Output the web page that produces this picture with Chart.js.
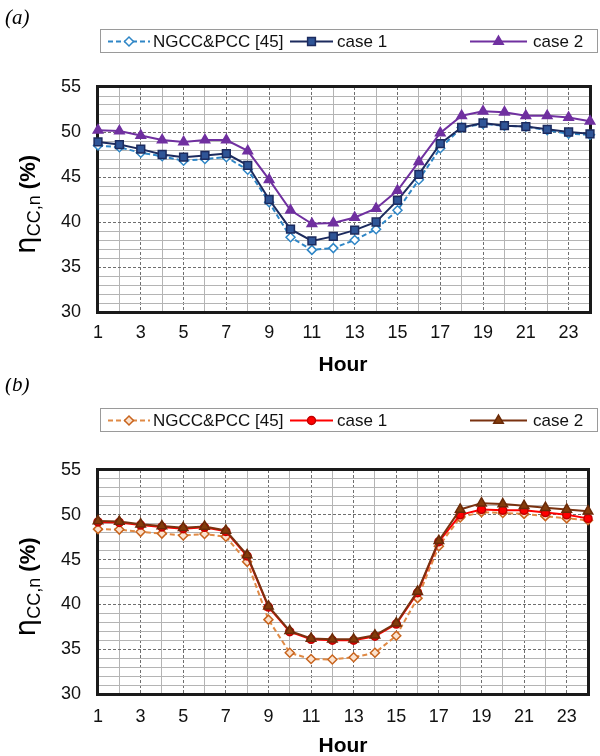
<!DOCTYPE html>
<html><head><meta charset="utf-8">
<script src="https://cdn.jsdelivr.net/npm/chart.js@4/dist/chart.umd.min.js"></script>
<style>
html,body{margin:0;padding:0;background:#fff;}
#wrap{position:relative;width:600px;height:756px;overflow:hidden;background:#fff;}
.pane{position:absolute;left:0;width:600px;height:378px;}
</style></head><body>
<div id="wrap">
<div class="pane" style="top:0"><canvas id="ca" width="600" height="378"></canvas></div>
<div class="pane" style="top:378px"><canvas id="cb" width="600" height="378"></canvas></div>
</div>
<script>
// ---- data ----
const hours = ["1","2","3","4","5","6","7","8","9","10","11","12","13","14","15","16","17","18","19","20","21","22","23","24"];
const xTickLabels = ["1","3","5","7","9","11","13","15","17","19","21","23"];
const yTickLabels = [30, 35, 40, 45, 50, 55];
const seriesNames = ["NGCC&PCC [45]", "case 1", "case 2"];

const aNgcc  = [48.5, 48.3, 47.7, 47.3, 46.8, 47.0, 47.2, 45.8, 42.2, 38.3, 36.9, 37.1, 38.0, 39.2, 41.3, 44.7, 48.2, 50.5, 50.9, 50.7, 50.6, 50.2, 49.8, 49.7];
const aCase1 = [48.9, 48.6, 48.1, 47.5, 47.2, 47.4, 47.6, 46.3, 42.5, 39.2, 37.9, 38.4, 39.1, 40.0, 42.4, 45.3, 48.7, 50.5, 51.0, 50.7, 50.6, 50.3, 50.0, 49.8];
const aCase2 = [50.2, 50.1, 49.6, 49.1, 48.9, 49.1, 49.1, 47.9, 44.7, 41.3, 39.8, 39.9, 40.5, 41.5, 43.5, 46.7, 49.9, 51.8, 52.3, 52.2, 51.8, 51.8, 51.6, 51.2];

const bNgcc  = [48.4, 48.35, 48.1, 47.9, 47.7, 47.85, 47.55, 44.75, 38.3, 34.6, 33.9, 33.85, 34.1, 34.6, 36.5, 40.7, 46.5, 49.7, 50.3, 50.2, 50.1, 49.85, 49.6, 49.4];
const bCase1 = [49.2, 49.15, 48.85, 48.65, 48.45, 48.6, 48.15, 45.4, 39.7, 36.95, 36.1, 36.0, 36.0, 36.45, 37.8, 41.3, 47.0, 50.0, 50.6, 50.5, 50.5, 50.25, 50.0, 49.6];
const bCase2 = [49.3, 49.25, 48.95, 48.75, 48.55, 48.7, 48.25, 45.5, 39.8, 37.05, 36.2, 36.1, 36.1, 36.55, 37.9, 41.45, 47.1, 50.6, 51.3, 51.2, 51.0, 50.8, 50.6, 50.4];

// ---- styles ----
const FONT = "'Liberation Sans', Arial, sans-serif";
const panels = [
  { id: "ca", letter: "(a)", data: [aNgcc, aCase1, aCase2],
    colors: [
      { line: "#2f86c6", fill: "#ffffff", border: "#2f86c6", style: "rectRot", r: 4.5, dash: [5, 3] },
      { line: "#1c2b5e", fill: "#2f5597", border: "#1c2b5e", style: "rect", r: 5.5, dash: [] },
      { line: "#7030a0", fill: "#7030a0", border: "#7030a0", style: "triangle", r: 5.5, dash: [] }
    ],
    top: 87, bottom: 312, legendY: 29, letterY: 18, tickPad: 10, hourY: 365 },
  { id: "cb", letter: "(b)", data: [bNgcc, bCase1, bCase2],
    colors: [
      { line: "#e08a45", fill: "#fbe3cf", border: "#c8641e", style: "rectRot", r: 4.5, dash: [5, 3] },
      { line: "#ff0000", fill: "#ff0000", border: "#c00000", style: "circle", r: 4, dash: [] },
      { line: "#7a3210", fill: "#843c0c", border: "#6a2a08", style: "triangle", r: 5.5, dash: [] }
    ],
    top: 92, bottom: 316, legendY: 30, letterY: 7, tickPad: 12, hourY: 368 }
];

const LEFT = 98, RIGHT = 598, YW = 60, XH = 50;

const deco = {
  id: "deco",
  beforeDatasetsDraw(chart, args, o) {
    const { ctx, chartArea: a } = chart;
    ctx.save();
    ctx.strokeStyle = "#1a1a1a";
    ctx.lineWidth = 3;
    ctx.strokeRect(a.left - 0.5, a.top - 0.5, a.right - a.left + 1, a.bottom - a.top + 1);
    ctx.restore();
  },
  afterDraw(chart, args, o) {
    const { ctx, chartArea: a } = chart;
    const p = o.panel;
    ctx.save();
    // panel letter
    ctx.fillStyle = "#000";
    ctx.font = "italic 21px 'Liberation Serif', 'Times New Roman', serif";
    ctx.textBaseline = "middle";
    ctx.textAlign = "left";
    ctx.fillText(p.letter, 5, p.letterY);
    // legend box
    const lx = 100, lw = 498, lh = 24, ly = p.legendY;
    ctx.fillStyle = "#fff";
    ctx.fillRect(lx, ly, lw, lh);
    ctx.strokeStyle = "#9a9a9a";
    ctx.lineWidth = 1;
    ctx.strokeRect(lx + 0.5, ly + 0.5, lw - 1, lh - 1);
    const cy = ly + lh / 2 + 0.5;
    const items = [
      { x0: 108, x1: 150, tx: 153 },
      { x0: 290, x1: 333, tx: 337 },
      { x0: 470, x1: 527, tx: 533 }
    ];
    items.forEach((it, i) => {
      const c = p.colors[i];
      ctx.strokeStyle = c.line;
      ctx.lineWidth = 2;
      ctx.setLineDash(c.dash);
      ctx.beginPath(); ctx.moveTo(it.x0, cy); ctx.lineTo(it.x1, cy); ctx.stroke();
      ctx.setLineDash([]);
      ctx.fillStyle = c.fill; ctx.strokeStyle = c.border; ctx.lineWidth = 1.5;
      Chart.helpers.drawPoint(ctx, { pointStyle: c.style, radius: c.r, rotation: 0, borderWidth: 1.5 }, (it.x0 + it.x1) / 2, cy);
      ctx.fillStyle = "#111";
      ctx.font = "17px " + FONT;
      ctx.textAlign = "left";
      ctx.textBaseline = "middle";
      ctx.fillText(seriesNames[i], it.tx, cy + 1);
    });
    // x title
    ctx.fillStyle = "#000";
    ctx.font = "bold 21px " + FONT;
    ctx.textAlign = "center";
    ctx.textBaseline = "middle";
    ctx.fillText("Hour", 343, p.hourY);
    // y title (rotated) : η_CC,n (%)
    const midY = (a.top + a.bottom) / 2 + 5;
    ctx.translate(28, midY);
    ctx.rotate(-Math.PI / 2);
    ctx.textAlign = "left";
    ctx.textBaseline = "alphabetic";
    const f1 = "28px 'DejaVu Sans', " + FONT, f2 = "18px " + FONT, f3 = "bold 22px " + FONT;
    ctx.font = f1; const w1 = ctx.measureText("η").width;
    ctx.font = f2; const w2 = ctx.measureText("CC,n").width;
    ctx.font = f3; const w3 = ctx.measureText(" (%)").width;
    let x = -(w1 + w2 + w3) / 2;
    const base = 7;
    ctx.font = f1; ctx.fillText("η", x, base); x += w1;
    ctx.font = f2; ctx.fillText("CC,n", x, base + 5); x += w2;
    ctx.font = f3; ctx.fillText(" (%)", x, base);
    ctx.restore();
  }
};

panels.forEach(p => {
  const datasets = p.data.map((vals, i) => {
    const c = p.colors[i];
    return {
      label: seriesNames[i],
      data: vals,
      borderColor: c.line,
      borderWidth: 2,
      borderDash: c.dash,
      pointStyle: c.style,
      pointRadius: c.r,
      pointBackgroundColor: c.fill,
      pointBorderColor: c.border,
      pointBorderWidth: 1.5,
      tension: 0,
      fill: false,
      clip: false,
      order: 2 - i
    };
  });
  new Chart(document.getElementById(p.id), {
    type: "line",
    data: { labels: hours, datasets },
    options: {
      responsive: false,
      animation: false,
      layout: { padding: { left: LEFT - YW, right: 600 - RIGHT, top: p.top, bottom: 378 - p.bottom - XH } },
      plugins: { legend: { display: false }, tooltip: { enabled: false }, deco: { panel: p } },
      scales: {
        x: {
          type: "category",
          offset: false,
          grid: {
            drawTicks: false,
            lineWidth: 1,
            color: ctx => (ctx.index % 2 === 0 ? "#6e6e6e" : "#b4b4b4")
          },
          border: { display: false, dash: ctx => (ctx.index % 2 === 0 ? [3, 2] : []) },
          ticks: {
            autoSkip: false, maxRotation: 0, padding: p.tickPad, color: "#111",
            font: { family: FONT, size: 18 },
            callback: (v, i) => (xTickLabels.includes(hours[i]) ? hours[i] : "")
          },
          afterFit: s => { s.height = XH; }
        },
        y: {
          min: 30, max: 55,
          grid: {
            drawTicks: false,
            lineWidth: 1,
            color: ctx => (ctx.tick && ctx.tick.value % 5 === 0 ? "#6e6e6e" : "#b4b4b4")
          },
          border: { display: false, dash: ctx => (ctx.tick && ctx.tick.value % 5 === 0 ? [3, 2] : []) },
          ticks: {
            stepSize: 1, autoSkip: false, padding: 17, color: "#111",
            font: { family: FONT, size: 18 },
            callback: v => (yTickLabels.includes(v) ? String(v) : "")
          },
          afterFit: s => { s.width = YW; }
        }
      }
    },
    plugins: [deco]
  });
});
</script>
</body></html>
